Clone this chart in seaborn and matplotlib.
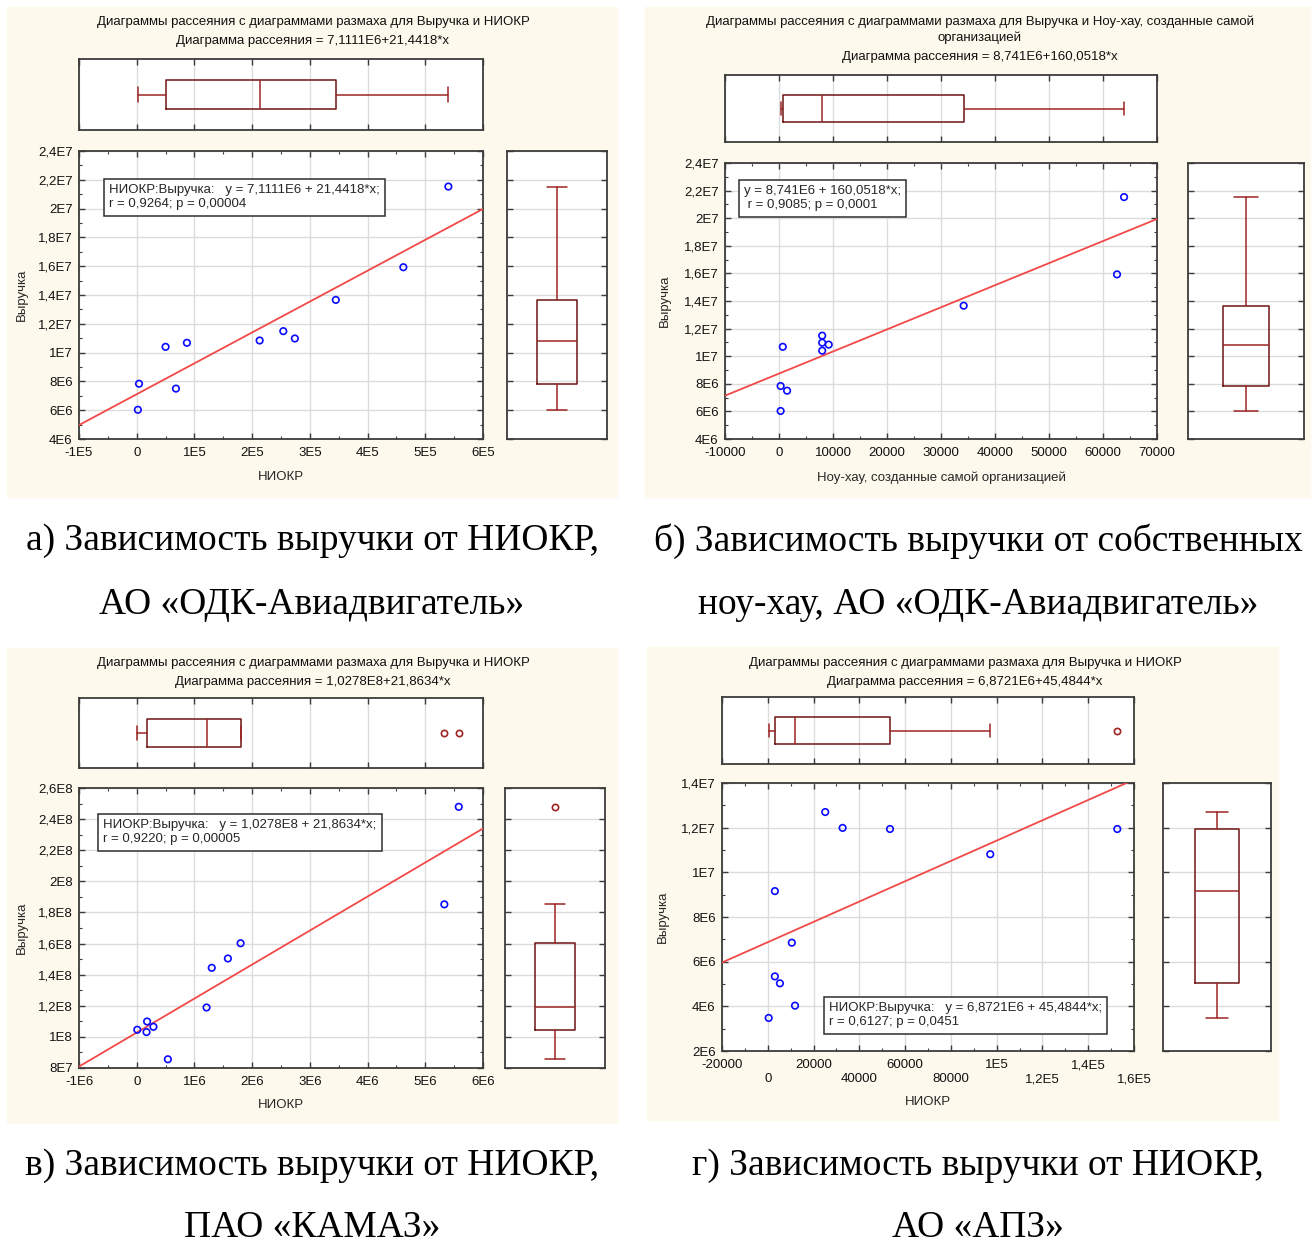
import numpy as np
import matplotlib
matplotlib.use('Agg')
import matplotlib.pyplot as plt
from matplotlib.patches import Rectangle
from matplotlib.ticker import MultipleLocator
import seaborn as sns

# ================= 1. Данные =================
# АО «ОДК-Авиадвигатель»: выручка, НИОКР, ноу-хау
y_revenue_odk = [21.53e6, 15.93e6, 13.66e6, 11.49e6, 10.98e6, 10.84e6, 10.68e6, 10.40e6, 7.84e6, 7.50e6, 6.03e6]
x_niokr_odk = [5.40e5, 4.62e5, 3.45e5, 2.54e5, 2.74e5, 2.13e5, 0.87e5, 0.50e5, 0.04e5, 0.68e5, 0.02e5]
x_knowhow_odk = [63.9e3, 62.6e3, 34.2e3, 8.0e3, 8.0e3, 9.2e3, 0.7e3, 8.0e3, 0.3e3, 1.5e3, 0.3e3]

# ПАО «КАМАЗ»
y_revenue_kamaz = [247.9e6, 185.2e6, 160.2e6, 150.4e6, 144.4e6, 118.9e6, 109.9e6, 106.5e6, 104.6e6, 103.1e6, 85.6e6]
x_niokr_kamaz = [5.58e6, 5.33e6, 1.80e6, 1.58e6, 1.30e6, 1.21e6, 0.18e6, 0.29e6, 0.01e6, 0.17e6, 0.54e6]

# АО «АПЗ»
y_revenue_apz = [12.70e6, 11.99e6, 11.94e6, 11.94e6, 10.81e6, 9.16e6, 6.85e6, 5.34e6, 5.03e6, 4.03e6, 3.48e6]
x_niokr_apz = [25.1e3, 32.7e3, 53.4e3, 152.7e3, 97.2e3, 3.1e3, 10.5e3, 3.1e3, 5.3e3, 11.9e3, 0.4e3]

# коэффициенты регрессии (intercept, slope)
coef_a = (7.1111e6, 21.4418)
coef_b = (8.741e6, 160.0518)
coef_c = (1.0278e8, 21.8634)
coef_d = (6.8721e6, 45.4844)

# оси
xticks_a = [-1e5, 0, 1e5, 2e5, 3e5, 4e5, 5e5, 6e5]
xlabels_a = ['-1E5', '0', '1E5', '2E5', '3E5', '4E5', '5E5', '6E5']
xticks_b = [-10000, 0, 10000, 20000, 30000, 40000, 50000, 60000, 70000]
xlabels_b = ['-10000', '0', '10000', '20000', '30000', '40000', '50000', '60000', '70000']
xticks_c = [-1e6, 0, 1e6, 2e6, 3e6, 4e6, 5e6, 6e6]
xlabels_c = ['-1E6', '0', '1E6', '2E6', '3E6', '4E6', '5E6', '6E6']
xticks_d = [-20000, 0, 20000, 40000, 60000, 80000, 1e5, 1.2e5, 1.4e5, 1.6e5]
xlabels_d = ['-20000', '\n0', '20000', '\n40000', '60000', '\n80000', '1E5', '\n1,2E5', '1,4E5', '\n1,6E5']

yticks_odk = [4e6, 6e6, 8e6, 1e7, 1.2e7, 1.4e7, 1.6e7, 1.8e7, 2e7, 2.2e7, 2.4e7]
ylabels_odk = ['4E6', '6E6', '8E6', '1E7', '1,2E7', '1,4E7', '1,6E7', '1,8E7', '2E7', '2,2E7', '2,4E7']
yticks_kamaz = [8e7, 1e8, 1.2e8, 1.4e8, 1.6e8, 1.8e8, 2e8, 2.2e8, 2.4e8, 2.6e8]
ylabels_kamaz = ['8E7', '1E8', '1,2E8', '1,4E8', '1,6E8', '1,8E8', '2E8', '2,2E8', '2,4E8', '2,6E8']
yticks_apz = [2e6, 4e6, 6e6, 8e6, 1e7, 1.2e7, 1.4e7]
ylabels_apz = ['2E6', '4E6', '6E6', '8E6', '1E7', '1,2E7', '1,4E7']

# ================= 2. Оформление =================
sns.set_theme(style='white')
plt.rcParams['font.family'] = ['Liberation Sans', 'DejaVu Sans']
plt.rcParams['axes.edgecolor'] = '#3c3c3c'
plt.rcParams['axes.linewidth'] = 1.3

W, H = 1315, 1243
FS = 9.5
BG = '#fdf9ec'
RED_LINE = '#f24848'
BOX_DARK = '#6e1414'
BOX_RED = '#9e2424'
BLUE = '#0a0aff'

fig = plt.figure(figsize=(W / 100, H / 100), dpi=100)


def rect(l, t, r, b):
    return [l / W, 1 - b / H, (r - l) / W, (b - t) / H]


def box_stats(v):
    v = np.sort(np.asarray(v, float))
    q1, med, q3 = np.percentile(v, [25, 50, 75], method='weibull')
    iqr = q3 - q1
    lo = v[v >= q1 - 1.5 * iqr].min()
    hi = v[v <= q3 + 1.5 * iqr].max()
    fl = v[(v < lo) | (v > hi)]
    return [dict(med=med, q1=q1, q3=q3, whislo=lo, whishi=hi, fliers=fl)]


def style_ticks(ax):
    ax.tick_params(which='both', direction='in', top=True, right=True, bottom=True, left=True,
                   colors='#3c3c3c', labelcolor='#111111', labelsize=FS)
    ax.tick_params(which='major', length=4, width=1)
    ax.tick_params(which='minor', length=2.5, width=0.8)
    ax.tick_params(axis='x', pad=6)
    ax.tick_params(axis='y', pad=4.5)
    ax.grid(True, which='major', color='#dcdcdc', lw=1)
    ax.set_axisbelow(True)


def draw_box(ax, values, orientation):
    ax.bxp(box_stats(values), positions=[0], widths=0.8, capwidths=0.4, orientation=orientation,
           boxprops=dict(color=BOX_DARK, lw=1.1),
           medianprops=dict(color=BOX_RED, lw=1.1),
           whiskerprops=dict(color=BOX_RED, lw=1.1),
           capprops=dict(color=BOX_RED, lw=1.1),
           flierprops=dict(marker='o', mfc='none', mec=BOX_RED, ms=4.5, mew=1.2))


def panel(bg, top, main, right, x, y, coef, xticks, xlabels, yticks, ylabels,
          xlabel, ylabel_px, xlabel_px, note, note_px, titles, captions):
    fig.add_artist(Rectangle((bg[0] / W, 1 - bg[3] / H), (bg[2] - bg[0]) / W, (bg[3] - bg[1]) / H,
                             transform=fig.transFigure, color=BG, zorder=-1))
    xlim = (xticks[0], xticks[-1])
    ylim = (yticks[0], yticks[-1])
    xstep = xticks[1] - xticks[0]
    ystep = yticks[1] - yticks[0]

    # основная диаграмма рассеяния
    ax = fig.add_axes(rect(*main))
    ax.set_facecolor('white')
    ax.set_xlim(xlim)
    ax.set_ylim(ylim)
    a, b = coef
    xs = np.array(xlim, float)
    sns.lineplot(x=xs, y=a + b * xs, ax=ax, color=RED_LINE, lw=1.3, zorder=3)
    sns.scatterplot(x=x, y=y, ax=ax, s=22, marker='o', facecolor='none', edgecolor=BLUE,
                    linewidth=1.2, zorder=4)
    ax.set_xlim(xlim)
    ax.set_ylim(ylim)
    ax.set_xticks(xticks)
    ax.set_xticklabels(xlabels)
    ax.set_yticks(yticks)
    ax.set_yticklabels(ylabels)
    ax.xaxis.set_minor_locator(MultipleLocator(xstep / 2))
    ax.yaxis.set_minor_locator(MultipleLocator(ystep / 2))
    style_ticks(ax)
    l, t, r, bt = main
    ax.set_xlabel(xlabel, fontsize=FS)
    ax.set_ylabel('Выручка', fontsize=FS)
    ax.yaxis.set_label_coords((ylabel_px - l) / (r - l), 0.5)
    ax.xaxis.set_label_coords(0.5, -(xlabel_px - bt) / (bt - t))
    ax.text((note_px[0] - l) / (r - l), (bt - note_px[1]) / (bt - t), note, transform=ax.transAxes,
            ha='left', va='top', fontsize=FS, linespacing=1.25, zorder=6,
            bbox=dict(boxstyle='square,pad=0.4', fc='white', ec='#2e2e2e', lw=1.1))

    # верхняя диаграмма размаха
    axt = fig.add_axes(rect(*top))
    axt.set_facecolor('white')
    draw_box(axt, x, 'horizontal')
    axt.set_xlim(xlim)
    axt.set_ylim(-1, 1)
    axt.set_xticks(xticks)
    axt.set_xticklabels([])
    axt.set_yticks([])
    style_ticks(axt)
    axt.tick_params(left=False, right=False)

    # правая диаграмма размаха
    axr = fig.add_axes(rect(*right))
    axr.set_facecolor('white')
    draw_box(axr, y, 'vertical')
    axr.set_ylim(ylim)
    axr.set_xlim(-1, 1)
    axr.set_yticks(yticks)
    axr.set_yticklabels([])
    axr.set_xticks([])
    style_ticks(axr)
    axr.tick_params(bottom=False, top=False)

    for txt, (px, py) in titles:
        fig.text(px / W, 1 - py / H, txt, ha='center', va='center', fontsize=FS, color='#111111')
    for txt, (px, py) in captions:
        fig.text(px / W, 1 - py / H, txt, ha='center', va='center', fontsize=27,
                 family=['Liberation Serif', 'DejaVu Serif'], color='black')


panel(bg=(7, 7, 617, 497), top=(79, 59, 483, 130), main=(79, 151, 483, 439), right=(507, 151, 607, 439),
      x=x_niokr_odk, y=y_revenue_odk, coef=coef_a, xticks=xticks_a, xlabels=xlabels_a,
      yticks=yticks_odk, ylabels=ylabels_odk, xlabel='НИОКР', ylabel_px=28, xlabel_px=471,
      note='НИОКР:Выручка:   y = 7,1111E6 + 21,4418*x;\nr = 0,9264; p = 0,00004', note_px=(109, 184),
      titles=[('Диаграммы рассеяния с диаграммами размаха для Выручка и НИОКР', (313, 22)),
              ('Диаграмма рассеяния = 7,1111E6+21,4418*x', (313, 41))],
      captions=[('а) Зависимость выручки от НИОКР,', (312, 541)),
                ('АО «ОДК-Авиадвигатель»', (312, 605))])

panel(bg=(645, 7, 1310, 497), top=(725, 75, 1157, 142), main=(725, 163, 1157, 439), right=(1188, 163, 1304, 439),
      x=x_knowhow_odk, y=y_revenue_odk, coef=coef_b, xticks=xticks_b, xlabels=xlabels_b,
      yticks=yticks_odk, ylabels=ylabels_odk, xlabel='Ноу-хау, созданные самой организацией',
      ylabel_px=671, xlabel_px=471,
      note='y = 8,741E6 + 160,0518*x;\n r = 0,9085; p = 0,0001', note_px=(744, 185),
      titles=[('Диаграммы рассеяния с диаграммами размаха для Выручка и Ноу-хау, созданные самой', (980, 22)),
              ('организацией', (980, 38)),
              ('Диаграмма рассеяния = 8,741E6+160,0518*x', (980, 57))],
      captions=[('б) Зависимость выручки от собственных', (978, 541)),
                ('ноу-хау, АО «ОДК-Авиадвигатель»', (978, 605))])

panel(bg=(7, 648, 617, 1123), top=(79, 698, 483, 768), main=(79, 788, 483, 1068), right=(505, 788, 605, 1068),
      x=x_niokr_kamaz, y=y_revenue_kamaz, coef=coef_c, xticks=xticks_c, xlabels=xlabels_c,
      yticks=yticks_kamaz, ylabels=ylabels_kamaz, xlabel='НИОКР', ylabel_px=28, xlabel_px=1099,
      note='НИОКР:Выручка:   y = 1,0278E8 + 21,8634*x;\nr = 0,9220; p = 0,00005', note_px=(103, 819),
      titles=[('Диаграммы рассеяния с диаграммами размаха для Выручка и НИОКР', (313, 663)),
              ('Диаграмма рассеяния = 1,0278E8+21,8634*x', (313, 682))],
      captions=[('в) Зависимость выручки от НИОКР,', (312, 1166)),
                ('ПАО «КАМАЗ»', (312, 1228))])

panel(bg=(647, 647, 1278, 1120), top=(722, 697, 1134, 764), main=(722, 783, 1134, 1051), right=(1163, 783, 1271, 1051),
      x=x_niokr_apz, y=y_revenue_apz, coef=coef_d, xticks=xticks_d, xlabels=xlabels_d,
      yticks=yticks_apz, ylabels=ylabels_apz, xlabel='НИОКР', ylabel_px=669, xlabel_px=1096,
      note='НИОКР:Выручка:   y = 6,8721E6 + 45,4844*x;\nr = 0,6127; p = 0,0451', note_px=(829, 1002),
      titles=[('Диаграммы рассеяния с диаграммами размаха для Выручка и НИОКР', (965, 663)),
              ('Диаграмма рассеяния = 6,8721E6+45,4844*x', (965, 682))],
      captions=[('г) Зависимость выручки от НИОКР,', (978, 1166)),
                ('АО «АПЗ»', (978, 1228))])

fig.savefig('out.png', dpi=100, facecolor='white')
